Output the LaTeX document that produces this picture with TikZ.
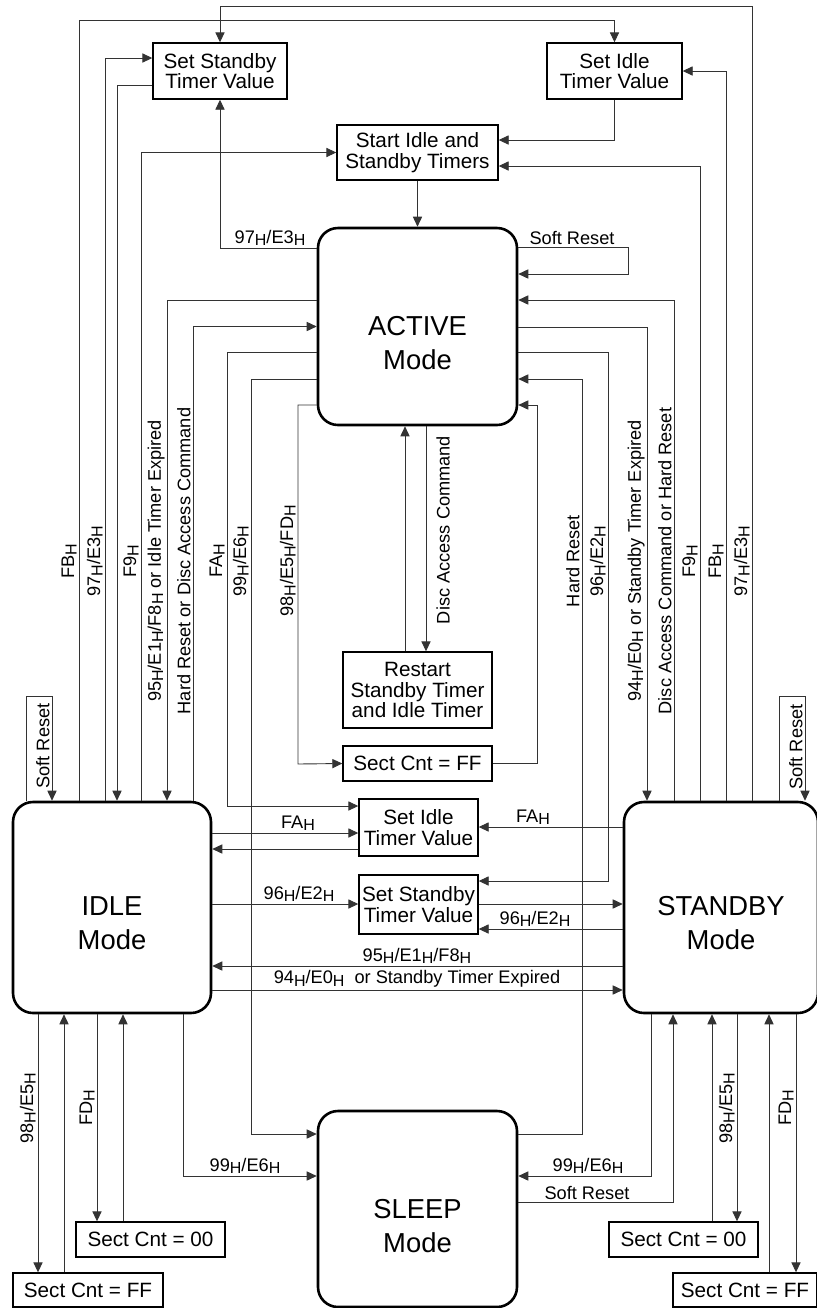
\documentclass[tikz,border=0pt]{standalone}
\usepackage{fontspec}
\setmainfont{Liberation Sans}
\usetikzlibrary{arrows.meta}
\newcommand{\hx}{\raisebox{-1.2pt}{\fontsize{8}{8}\selectfont H}}
\tikzset{
  box/.style={draw, line width=0.7pt, fill=white, align=center, inner sep=0pt, font=\fontsize{10.35}{10.4}\selectfont},
  mode/.style={draw, line width=1.3pt, rounded corners=10pt, fill=white, minimum width=99.5pt, minimum height=98.5pt},
  modetxt/.style={align=center, font=\fontsize{13.7}{17}\selectfont},
  wire/.style={draw=black!80, line width=0.45pt},
  arr/.style={wire, -{Triangle[length=5pt,width=4.6pt]}},
  lbl/.style={inner sep=1pt, font=\fontsize{9.1}{10}\selectfont},
  vlbl/.style={lbl, rotate=90, anchor=south}
}
\begin{document}
\begin{tikzpicture}[x=0.5pt, y=-0.5pt]
  \useasboundingbox (0,0) rectangle (817,1308);

  % timer boxes
  \node[box, minimum width=67pt, minimum height=28pt] (stbyT) at (220,71) {Set Standby\\Timer Value};
  \node[box, minimum width=67.5pt, minimum height=28pt] (idleT) at (614.5,71) {Set Idle\\Timer Value};
  \node[box, minimum width=80.5pt, minimum height=27.5pt] (start) at (417.5,152.5) {Start Idle and\\Standby Timers};
  \node[box, minimum width=74.5pt, minimum height=38pt] (restart) at (417.5,690) {Restart\\Standby Timer\\and Idle Timer};
  \node[box, minimum width=74.5pt, minimum height=17.5pt] (ffM) at (417.5,763.5) {Sect Cnt = FF};
  \node[box, minimum width=59.5pt, minimum height=28.5pt] (idleM) at (418.5,827.5) {Set Idle\\Timer Value};
  \node[box, minimum width=59.5pt, minimum height=29.5pt] (stbyM) at (418.5,904.5) {Set Standby\\Timer Value};
  \node[box, minimum width=74.5pt, minimum height=17.5pt] (c00L) at (150.5,1239.5) {Sect Cnt = 00};
  \node[box, minimum width=75pt, minimum height=17pt] (ffL) at (88,1290) {Sect Cnt = FF};
  \node[box, minimum width=74.5pt, minimum height=17.5pt] (c00R) at (683.5,1239.5) {Sect Cnt = 00};
  \node[box, minimum width=72pt, minimum height=17pt] (ffR) at (745,1290) {Sect Cnt = FF};

  % modes
  \node[mode] (active) at (417.5,326.5) {};
  \node[mode, minimum width=99pt, minimum height=105.5pt] (idle) at (112,907.5) {};
  \node[mode, minimum width=97pt, minimum height=105.5pt] (standby) at (721,907.5) {};
  \node[mode, minimum height=98pt] (sleep) at (417.5,1209) {};
  \node[modetxt] (activet) at ([yshift=-8.5pt]active.center) {ACTIVE\\Mode};
  \node[modetxt] (idlet) at ([yshift=-8pt]idle.center) {IDLE\\Mode};
  \node[modetxt] (standbyt) at ([yshift=-8pt]standby.center) {STANDBY\\Mode};
  \node[modetxt] (sleept) at ([yshift=-8.5pt]sleep.center) {SLEEP\\Mode};

  % top
  \draw[arr] (start.south) -- (active.north);
  \draw[arr] (idleT.south) |- (start.east |- 0,140);
  \draw[arr] (active.west |- 0,248) -| (stbyT.south);
  \node[lbl, anchor=south] (l1) at (270,248) {97\hx/E3\hx};
  \draw[arr] (active.east |- 0,247) -| (628,274) -- (active.east |- 0,274);
  \node[lbl, anchor=south] (l2) at (572,247) {Soft Reset};

  % left side
  \draw[arr] (idle.north -| 79,0) -- (79,20) -| (idleT.north);
  \draw[arr] (idle.north -| 105,0) |- (stbyT.west |- 0,58);
  \draw[arr] (stbyT.west |- 0,85) -| (idle.north -| 117,0);
  \draw[arr] (idle.north -| 141,0) |- (start.west);
  \draw[arr] (active.west |- 0,300) -| (idle.north -| 167,0);
  \draw[arr] (idle.north -| 193,0) |- (active.west);
  \draw[arr] (active.west |- 0,352) -| (227,806) -- (idleM.west |- 0,806);
  \draw[arr] (active.west |- 0,379) -| (251,1134) -- (sleep.west |- 0,1134);
  \draw[arr] (active.west |- 0,405) -| (298,764) -- (ffM.west);
  \node[vlbl] (l3) at (79,561) {FB\hx};
  \node[vlbl] (l4) at (105,561) {97\hx/E3\hx};
  \node[vlbl] (l5) at (141,561) {F9\hx};
  \node[vlbl] (l6) at (167,561) {95\hx/E1\hx/F8\hx{} or Idle Timer Expired};
  \node[vlbl] (l7) at (193,561) {Hard Reset or Disc Access Command};
  \node[vlbl] (l8) at (227,561) {FA\hx};
  \node[vlbl] (l9) at (251,561) {99\hx/E6\hx};
  \node[vlbl] (l10) at (298,561) {98\hx/E5\hx/FD\hx};

  % right side
  \draw[arr] (standby.north -| 752,0) -- (752,6) -| (stbyT.north);
  \draw[arr] (standby.north -| 726,0) |- (idleT.east);
  \draw[arr] (standby.north -| 700,0) |- (start.east |- 0,166);
  \draw[arr] (standby.north -| 674,0) |- (active.east |- 0,300);
  \draw[arr] (active.east |- 0,327) -| (standby.north -| 647,0);
  \draw[arr] (active.east |- 0,352) -| (608,881) -- (stbyM.east |- 0,881);
  \draw[arr] (sleep.east |- 0,1134) -| (582,379) -- (active.east |- 0,379);
  \draw[arr] (ffM.east) -| (537,405) -- (active.east |- 0,405);
  \node[vlbl] (l11) at (582,561) {Hard Reset};
  \node[vlbl] (l12) at (608,561) {96\hx/E2\hx};
  \node[vlbl] (l13) at (647,561) {94\hx/E0\hx{} or Standby Timer Expired};
  \node[vlbl] (l14) at (674,561) {Disc Access Command or Hard Reset};
  \node[vlbl] (l15) at (700,561) {F9\hx};
  \node[vlbl] (l16) at (726,561) {FB\hx};
  \node[vlbl] (l17) at (752,561) {97\hx/E3\hx};

  % active <-> restart
  \draw[arr] (restart.north -| 405,0) -- (active.south -| 405,0);
  \draw[arr] (active.south -| 426,0) -- (restart.north -| 426,0);
  \node[lbl, rotate=90, anchor=north, inner sep=0pt] (l18) at (436,530) {Disc Access Command};

  % soft resets
  \draw[arr] (idle.north -| 26,0) -- (26,696) -| (idle.north -| 52,0);
  \node[vlbl] (l19) at (52,746) {Soft Reset};
  \draw[arr] (standby.north -| 779,0) -- (779,696) -| (standby.north -| 805,0);
  \node[vlbl] (l20) at (805,747) {Soft Reset};

  % idle <-> standby
  \draw[arr] (idle.east |- 0,833) -- (idleM.west |- 0,833);
  \node[lbl, anchor=south] (l21) at (298,833) {FA\hx};
  \draw[arr] (idleM.west |- 0,849) -- (idle.east |- 0,849);
  \draw[arr] (standby.west |- 0,827) -- (idleM.east |- 0,827);
  \node[lbl, anchor=south] (l22) at (533,827) {FA\hx};
  \draw[arr] (idle.east |- 0,904) -- (stbyM.west |- 0,904);
  \node[lbl, anchor=south] (l23) at (299,904) {96\hx/E2\hx};
  \draw[arr] (stbyM.east |- 0,904) -- (standby.west |- 0,904);
  \draw[arr] (standby.west |- 0,929) -- (stbyM.east |- 0,929);
  \node[lbl, anchor=south] (l24) at (535,929) {96\hx/E2\hx};
  \draw[arr] (standby.west |- 0,966) -- (idle.east |- 0,966);
  \node[lbl, anchor=south] (l25) at (417,966) {95\hx/E1\hx/F8\hx};
  \draw[arr] (idle.east |- 0,990) -- (standby.west |- 0,990);
  \node[lbl, anchor=south] (l26) at (417,990) {94\hx/E0\hx{}\ \ or Standby Timer Expired};

  % bottom
  \draw[arr] (idle.south -| 38,0) -- (ffL.north -| 38,0);
  \draw[arr] (ffL.north -| 64,0) -- (idle.south -| 64,0);
  \draw[arr] (idle.south -| 97,0) -- (c00L.north -| 97,0);
  \draw[arr] (c00L.north -| 123,0) -- (idle.south -| 123,0);
  \node[vlbl] (l27) at (38,1108) {98\hx/E5\hx};
  \node[vlbl] (l28) at (97,1108) {FD\hx};
  \draw[arr] (idle.south -| 183,0) |- (sleep.west |- 0,1176);
  \node[lbl, anchor=south] (l29) at (245,1176) {99\hx/E6\hx};
  \draw[arr] (standby.south -| 651,0) |- (sleep.east |- 0,1176);
  \node[lbl, anchor=south] (l30) at (588,1176) {99\hx/E6\hx};
  \draw[arr] (sleep.east |- 0,1202) -| (standby.south -| 673,0);
  \node[lbl, anchor=south] (l31) at (587,1202) {Soft Reset};
  \draw[arr] (c00R.north -| 712,0) -- (standby.south -| 712,0);
  \draw[arr] (standby.south -| 737,0) -- (c00R.north -| 737,0);
  \draw[arr] (ffR.north -| 769,0) -- (standby.south -| 769,0);
  \draw[arr] (standby.south -| 796,0) -- (ffR.north -| 796,0);
  \node[vlbl] (l32) at (737,1108) {98\hx/E5\hx};
  \node[vlbl] (l33) at (796,1108) {FD\hx};
\end{tikzpicture}
\end{document}
